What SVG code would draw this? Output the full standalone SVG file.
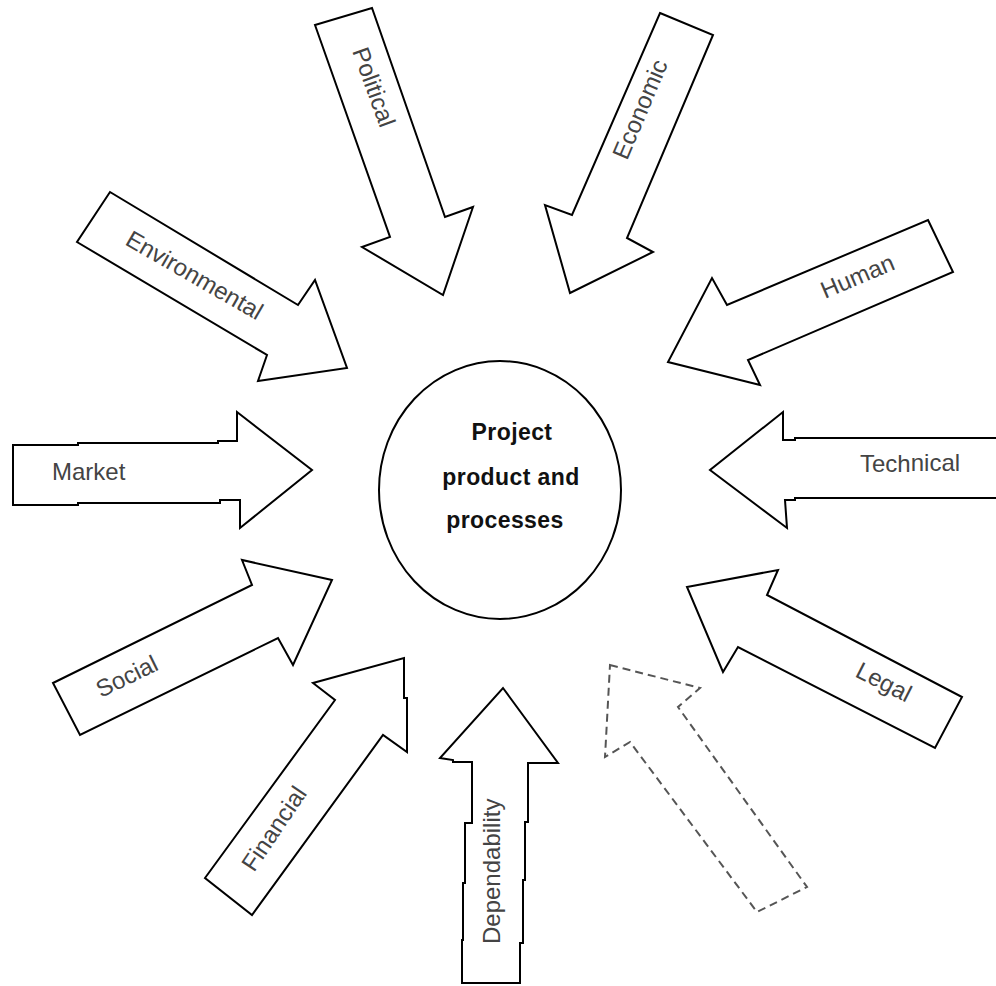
<svg xmlns="http://www.w3.org/2000/svg" width="996" height="986" viewBox="0 0 996 986">
  <style>
    .arrow { fill: #fff; stroke: #000; stroke-width: 2; stroke-linejoin: miter; }
    .dashed { fill: #fff; stroke: #555; stroke-width: 2; stroke-dasharray: 8 5; }
    .lbl { font-family: "Liberation Sans", Arial, sans-serif; font-size: 24px; fill: #444; }
    .core { font-family: "Liberation Sans", Arial, sans-serif; font-size: 23px; letter-spacing: 0.4px; font-weight: bold; fill: #111; text-anchor: middle; }
  </style>
  <rect width="996" height="986" fill="#fff"/>

  <!-- arrow shapes -->
  <g id="connectors">
    <g id="political">
      <polygon class="arrow" points="315,25 372,8 445,217 473,207 443,295 362,247 390,237"/>
      <text class="lbl" transform="translate(352,51) rotate(70)">Political</text>
    </g>
    <g id="economic">
      <polygon class="arrow" points="660,13 713,35 627,238 653,252 570,293 545,205 572,215"/>
      <text class="lbl" transform="translate(627,161) rotate(-67)">Economic</text>
    </g>
    <g id="environmental">
      <polygon class="arrow" points="110,192 298,305 315,280 347,368 258,381 267,355 77,242"/>
      <text class="lbl" transform="translate(124,244) rotate(30)">Environmental</text>
    </g>
    <g id="human">
      <polygon class="arrow" points="928,220 953,272 748,360 760,385 668,362 712,278 727,305"/>
      <text class="lbl" transform="translate(825,299) rotate(-23)">Human</text>
    </g>
    <g id="market">
      <polygon class="arrow" points="13,445 78,445 78,443 218,443 218,441 237,441 237,412 312,470 240,528 240,500 220,500 220,503 78,503 78,505 13,505"/>
      <text class="lbl" x="52" y="480">Market</text>
    </g>
    <g id="technical">
      <polygon class="arrow" points="1000,438 795,438 795,440 783,440 783,412 710,470 787,528 785,500 795,500 795,498 1000,498"/>
      <text class="lbl" x="860" y="472">Tech<tspan dy="-1">nical</tspan></text>
    </g>
    <g id="social">
      <polygon class="arrow" points="53,683 252,585 242,560 332,580 293,665 278,638 80,735"/>
      <text class="lbl" transform="translate(101,698) rotate(-26)">Social</text>
    </g>
    <g id="legal">
      <polygon class="arrow" points="687,587 778,570 767,595 962,697 935,748 738,647 723,672"/>
      <text class="lbl" transform="translate(854,676) rotate(27)">Legal</text>
    </g>
    <g id="financial">
      <polygon class="arrow" points="205,878 335,700 313,683 404,658 404,698 407,698 407,752 383,735 252,915"/>
      <text class="lbl" transform="translate(254,873) rotate(-56)">Financial</text>
    </g>
    <g id="dependability">
      <polygon class="arrow" points="503,688 558,763 528,763 528,822 525,822 525,880 523,880 523,943 520,943 520,983 462,983 462,940 463,940 463,883 465,883 465,823 472,823 472,762 453,762 453,760 440,758"/>
      <text class="lbl" transform="translate(500,944) rotate(-90)">Dependability</text>
    </g>
    <g id="unlabelled">
      <polygon class="dashed" points="610,665 700,688 678,707 807,887 757,912 630,742 605,757"/>
    </g>
  </g>

  <!-- central node -->
  <g id="project">
    <ellipse cx="500" cy="490" rx="121" ry="129" fill="#fff" stroke="#000" stroke-width="2"/>
    <text class="core" x="512" y="440">Project</text>
    <text class="core" x="511" y="485">product and</text>
    <text class="core" x="505" y="528">processes</text>
  </g>
</svg>
